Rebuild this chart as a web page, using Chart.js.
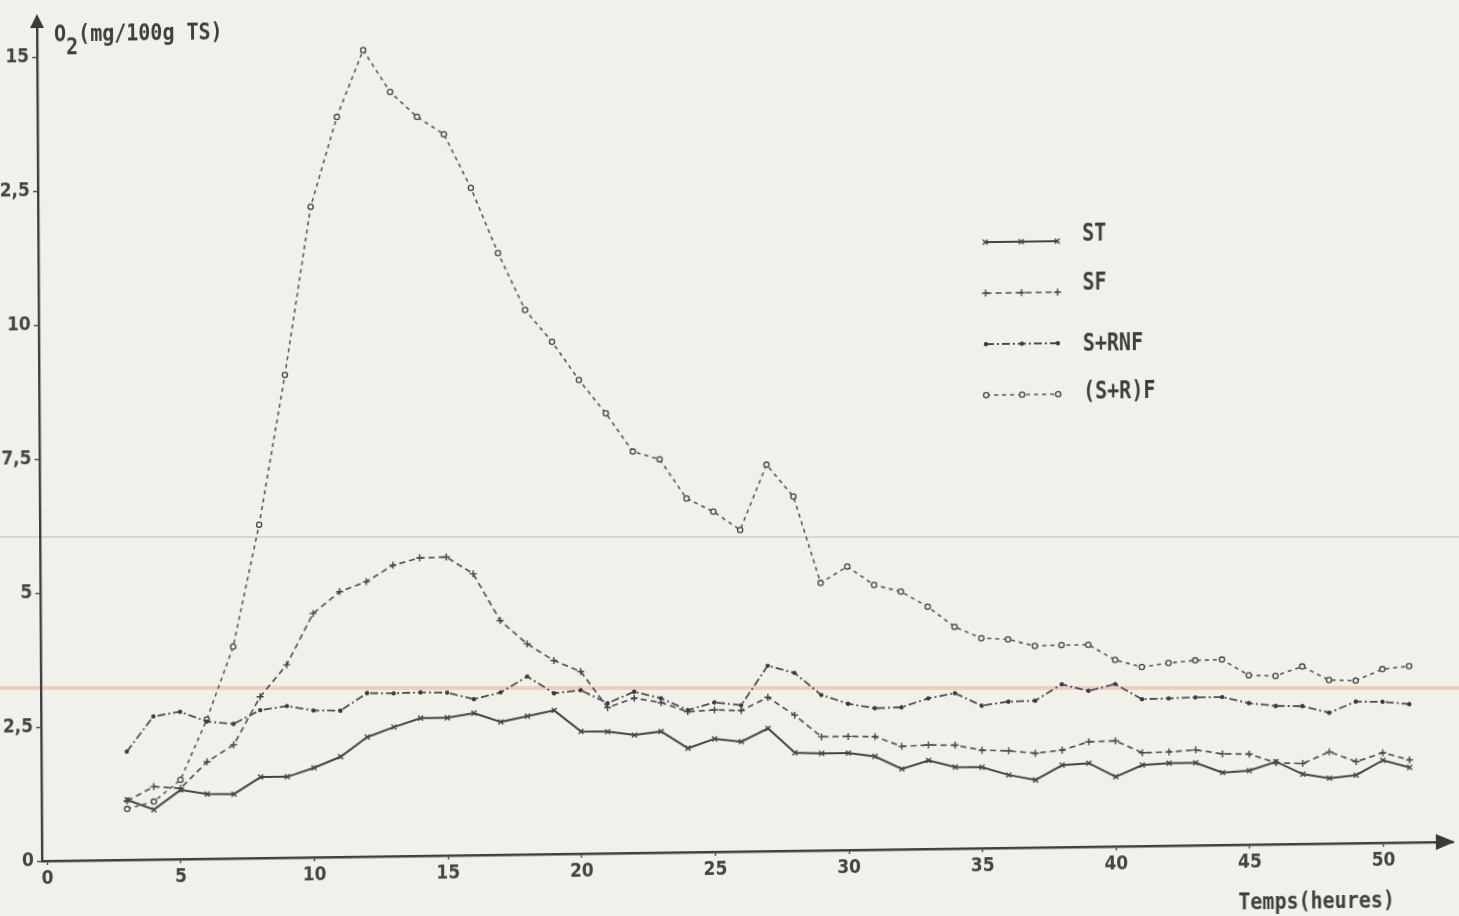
<!DOCTYPE html>
<html lang="fr">
<head>
<meta charset="utf-8">
<title>O2 (mg/100g TS) - Temps (heures)</title>
<script src="https://cdn.jsdelivr.net/npm/chart.js@4.4.1/dist/chart.umd.min.js"></script>
<style>
  html, body { margin: 0; padding: 0; }
  body {
    width: 1459px; height: 916px; overflow: hidden;
    background-color: #f2f0ea;
    background-image:
      linear-gradient(to bottom, transparent 536px, rgba(165,185,220,.45) 536px, rgba(165,185,220,.45) 538px, transparent 538px),
      linear-gradient(to bottom, transparent 686px, rgba(232,165,145,.45) 686px, rgba(232,165,145,.45) 690px, transparent 690px);
  }
  /* the scan is slightly tilted: skew the whole drawing around the origin */
  #frame {
    position: absolute; left: 0; top: 0; width: 1459px; height: 916px;
    transform-origin: 45px 861px;
    transform: matrix(1, -0.0136, 0.006, 1, 0, 0);
  }
  canvas { position: absolute; left: 0; top: 0; }
  .lbl {
    position: absolute; white-space: nowrap; line-height: 1;
    font-family: 'DejaVu Sans Mono', monospace; font-weight: bold; font-size: 20px;
    color: #3e3e3e; transform-origin: 0 0; transform: scaleY(1.15);
  }
  .lbl sub { font-size: 20px; vertical-align: -0.55em; line-height: 0; }
</style>
</head>
<body>
<div id="frame">
  <canvas id="chart" width="1459" height="916"></canvas>
  <div class="lbl" style="left:59px; top:22px;">O<sub>2</sub>(mg/100g TS)</div>
  <div class="lbl" style="left:1238px; top:906px;">Temps(heures)</div>
</div>
<script>
// Data (hours, O2 in mg/100g TS)
const hours = [3, 4, 5, 6, 7, 8, 9, 10, 11, 12, 13, 14, 15, 16, 17, 18, 19, 20, 21, 22, 23, 24, 25, 26, 27,
  28, 29, 30, 31, 32, 33, 34, 35, 36, 37, 38, 39, 40, 41, 42, 43, 44, 45, 46, 47, 48, 49, 50, 51];

const st = [1.12, 0.93, 1.29, 1.21, 1.20, 1.51, 1.51, 1.67, 1.87, 2.23, 2.41, 2.57, 2.57, 2.65, 2.48, 2.58, 2.68,
  2.28, 2.27, 2.20, 2.26, 1.94, 2.11, 2.05, 2.29, 1.83, 1.81, 1.81, 1.74, 1.50, 1.65, 1.52, 1.51, 1.36, 1.26,
  1.53, 1.56, 1.30, 1.51, 1.54, 1.54, 1.35, 1.38, 1.54, 1.30, 1.22, 1.27, 1.54, 1.40];

const sf = [1.10, 1.36, 1.32, 1.81, 2.12, 3.01, 3.60, 4.55, 4.95, 5.13, 5.43, 5.56, 5.57, 5.25, 4.37, 3.93, 3.61,
  3.40, 2.72, 2.89, 2.80, 2.62, 2.65, 2.63, 2.87, 2.53, 2.12, 2.12, 2.11, 1.92, 1.94, 1.93, 1.83, 1.81, 1.76,
  1.81, 1.96, 1.97, 1.74, 1.75, 1.78, 1.70, 1.69, 1.52, 1.50, 1.71, 1.52, 1.68, 1.54];

const srnf = [2.02, 2.67, 2.75, 2.56, 2.51, 2.76, 2.83, 2.74, 2.73, 3.05, 3.04, 3.05, 3.04, 2.91, 3.03, 3.32, 3.00,
  3.05, 2.80, 3.01, 2.88, 2.65, 2.79, 2.73, 3.46, 3.32, 2.90, 2.73, 2.64, 2.65, 2.81, 2.90, 2.66, 2.73, 2.74,
  3.04, 2.91, 3.03, 2.74, 2.75, 2.76, 2.76, 2.64, 2.58, 2.57, 2.44, 2.64, 2.63, 2.58];

const srf = [0.95, 1.08, 1.48, 2.60, 3.95, 6.22, 9.01, 12.14, 13.81, 15.05, 14.26, 13.79, 13.46, 12.45, 11.23, 10.16,
  9.56, 8.84, 8.21, 7.49, 7.34, 6.60, 6.35, 6.00, 7.21, 6.61, 4.99, 5.29, 4.94, 4.81, 4.52, 4.14, 3.92, 3.89,
  3.76, 3.77, 3.77, 3.48, 3.34, 3.41, 3.45, 3.46, 3.16, 3.14, 3.31, 3.05, 3.03, 3.24, 3.29];

const seriesNames = ['ST', 'SF', 'S+RNF', '(S+R)F'];

const xTicks = [0, 5, 10, 15, 20, 25, 30, 35, 40, 45, 50];
const xTickLabels = ['0', '5', '10', '15', '20', '25', '30', '35', '40', '45', '50'];
const yTicks = [0, 2.5, 5, 7.5, 10, 12.5, 15];
const yTickLabels = ['0', '2,5', '5', '7,5', '10', '12,5', '15'];

// Look
const paper = '#f2f0ea';
const ink = '#444444';
const tickFont = { family: "'Liberation Sans Narrow', 'DejaVu Sans Condensed', 'DejaVu Sans', sans-serif", size: 19, weight: 'bold' };
const legendBox = { x0: 989, x1: 1061, textX: 1086, rows: [255, 306, 357, 408], textRows: [249, 298, 359, 407] };

function pts(values) {
  return hours.map((h, i) => ({ x: h, y: values[i] }));
}

// arrow heads at the end of both axes
const arrowPlugin = {
  id: 'axisArrows',
  afterDraw(chart) {
    const { left, top, right, bottom } = chart.chartArea;
    const ctx = chart.ctx;
    ctx.save();
    ctx.fillStyle = '#3a3a3a';
    ctx.beginPath();
    ctx.moveTo(left, top - 11);
    ctx.lineTo(left - 7, top + 3);
    ctx.lineTo(left + 7, top + 3);
    ctx.closePath();
    ctx.fill();
    ctx.beginPath();
    ctx.moveTo(right + 2, bottom);
    ctx.lineTo(right - 17, bottom - 8);
    ctx.lineTo(right - 17, bottom + 8);
    ctx.closePath();
    ctx.fill();
    ctx.restore();
  }
};

// hand drawn style legend on the right
const legendPlugin = {
  id: 'sideLegend',
  afterDatasetsDraw(chart) {
    const ctx = chart.ctx;
    chart.data.datasets.forEach((ds, i) => {
      const y = legendBox.rows[i];
      ctx.save();
      ctx.strokeStyle = ds.borderColor;
      ctx.lineWidth = ds.borderWidth;
      ctx.setLineDash(ds.borderDash || []);
      ctx.beginPath();
      ctx.moveTo(legendBox.x0, y);
      ctx.lineTo(legendBox.x1, y);
      ctx.stroke();
      ctx.setLineDash([]);
      ctx.fillStyle = ds.pointBackgroundColor;
      ctx.strokeStyle = ds.pointBorderColor;
      ctx.lineWidth = ds.pointBorderWidth;
      [legendBox.x0, (legendBox.x0 + legendBox.x1) / 2, legendBox.x1].forEach(x => {
        Chart.helpers.drawPoint(ctx, {
          pointStyle: ds.pointStyle, radius: ds.pointRadius, rotation: 0, borderWidth: ds.pointBorderWidth
        }, x, y);
      });
      ctx.translate(legendBox.textX, legendBox.textRows[i]);
      ctx.scale(1, 1.2);
      ctx.font = "bold 20px 'DejaVu Sans Mono', monospace";
      ctx.fillStyle = '#3e3e3e';
      ctx.textBaseline = 'middle';
      ctx.fillText(ds.label, 0, 0);
      ctx.restore();
    });
  }
};

new Chart(document.getElementById('chart'), {
  type: 'line',
  data: {
    datasets: [
      {
        label: seriesNames[0], data: pts(st),
        borderColor: ink, borderWidth: 2,
        pointStyle: 'crossRot', pointRadius: 3.5, pointBorderWidth: 1.4,
        pointBorderColor: ink, pointBackgroundColor: ink
      },
      {
        label: seriesNames[1], data: pts(sf),
        borderColor: '#525252', borderWidth: 1.7, borderDash: [6, 4],
        pointStyle: 'cross', pointRadius: 3.5, pointBorderWidth: 1.4,
        pointBorderColor: '#444', pointBackgroundColor: '#444'
      },
      {
        label: seriesNames[2], data: pts(srnf),
        borderColor: '#4e4e4e', borderWidth: 1.8, borderDash: [8, 3, 2, 3],
        pointStyle: 'circle', pointRadius: 2.2, pointBorderWidth: 0,
        pointBorderColor: '#3c3c3c', pointBackgroundColor: '#3c3c3c'
      },
      {
        label: seriesNames[3], data: pts(srf),
        borderColor: '#575757', borderWidth: 1.6, borderDash: [4, 4],
        pointStyle: 'circle', pointRadius: 2.6, pointBorderWidth: 1.3,
        pointBorderColor: '#444', pointBackgroundColor: paper
      }
    ]
  },
  options: {
    responsive: false,
    animation: false,
    devicePixelRatio: 1,
    layout: { padding: { top: 25, right: 6, bottom: 25, left: 0 } },
    elements: { line: { tension: 0, fill: false } },
    plugins: { legend: { display: false }, tooltip: { enabled: false } },
    scales: {
      x: {
        type: 'linear', min: -0.2, max: 52.6,
        afterBuildTicks: s => { s.ticks = xTicks.map(v => ({ value: v })); },
        afterFit: s => { s.height = 30; },
        ticks: {
          autoSkip: false, maxRotation: 0, padding: 3, color: '#454545', font: tickFont,
          callback: (v, i) => xTickLabels[i]
        },
        grid: { drawOnChartArea: false, tickLength: 4, tickColor: '#555', tickWidth: 1.5 },
        border: { display: true, color: '#3f3f3f', width: 2.4 }
      },
      y: {
        type: 'linear', min: 0, max: 15.6,
        afterBuildTicks: s => { s.ticks = yTicks.map(v => ({ value: v })); },
        afterFit: s => { s.width = 42; },
        ticks: {
          autoSkip: false, padding: 3, color: '#454545', font: tickFont,
          callback: (v, i) => yTickLabels[i]
        },
        grid: { drawOnChartArea: false, tickLength: 5, tickColor: '#555', tickWidth: 1.5 },
        border: { display: true, color: '#3f3f3f', width: 2.4 }
      }
    }
  },
  plugins: [arrowPlugin, legendPlugin]
});
</script>
</body>
</html>
